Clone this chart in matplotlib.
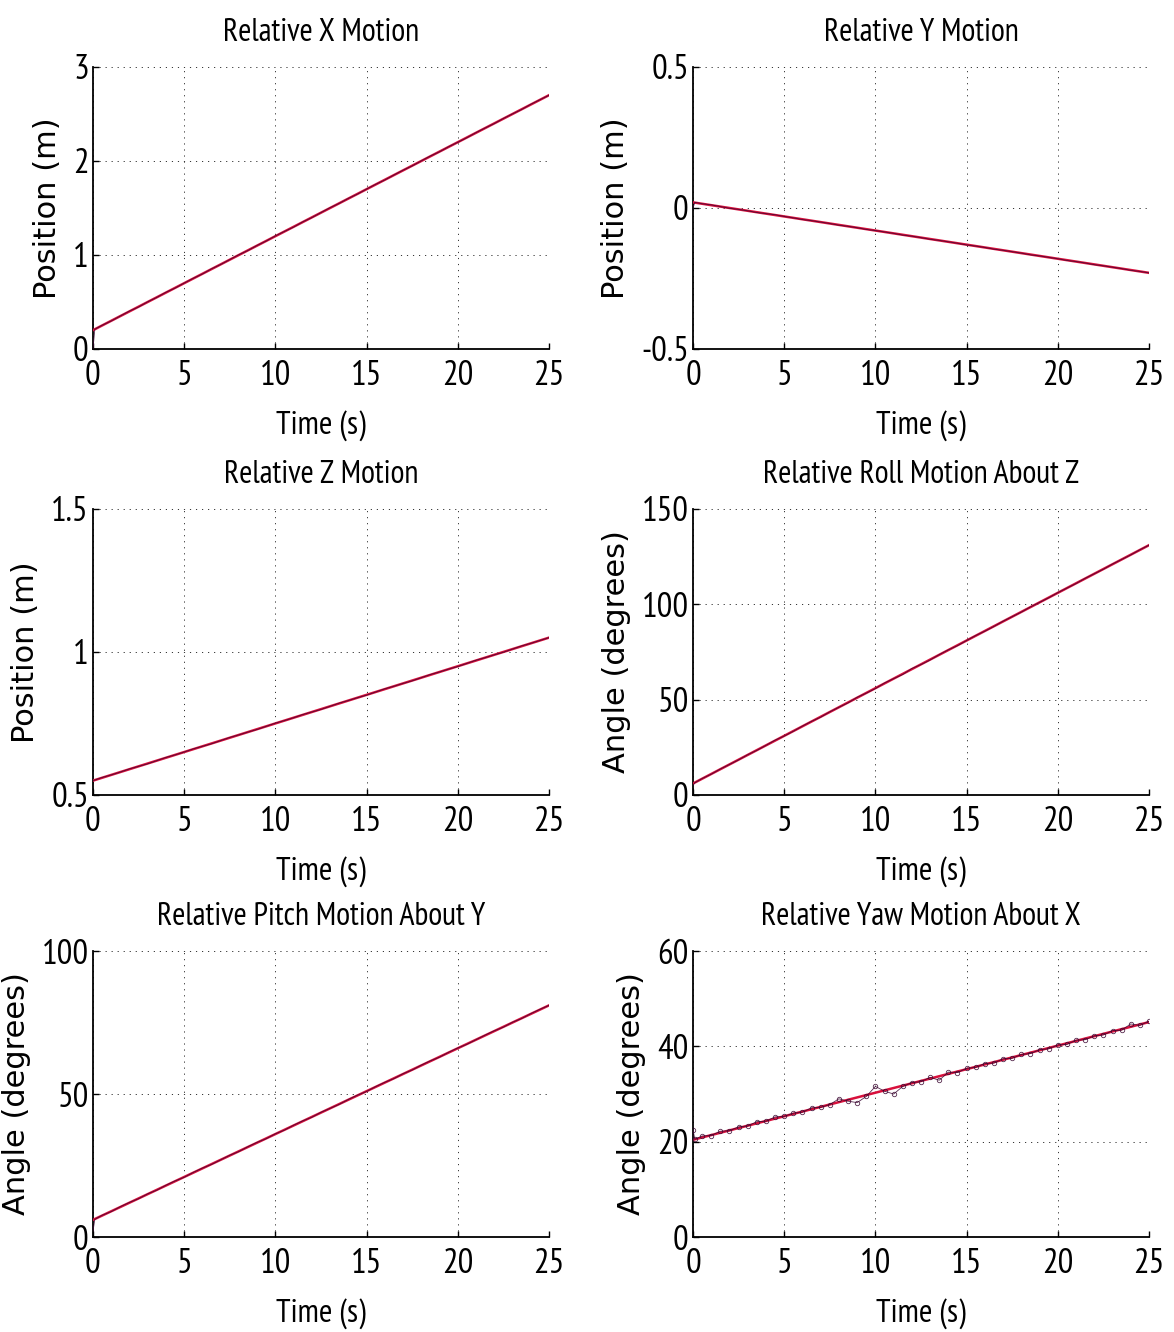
import numpy as np
import matplotlib
matplotlib.use("Agg")
import matplotlib.pyplot as plt

# sample times: one early sample to show the start-up jump, then every 0.5 s
time_s = np.r_[0.0, 0.1, np.arange(0.5, 25.01, 0.5)]

x_meas = [0.0, 0.21,
          0.252, 0.298, 0.351, 0.403, 0.447, 0.502, 0.549, 0.603, 0.648, 0.701,
          0.752, 0.798, 0.853, 0.899, 0.951, 1.003, 1.048, 1.102, 1.149, 1.203,
          1.251, 1.297, 1.352, 1.398, 1.451, 1.503, 1.549, 1.602, 1.648, 1.701,
          1.752, 1.798, 1.851, 1.902, 1.948, 2.001, 2.053, 2.098, 2.152, 2.199,
          2.248, 2.302, 2.351, 2.398, 2.452, 2.501, 2.548, 2.603, 2.651, 2.699]
y_meas = [0.0, 0.02,
          0.015, 0.011, 0.005, -0.001, -0.005, -0.010, -0.016, -0.020, -0.024, -0.030,
          -0.035, -0.041, -0.045, -0.050, -0.055, -0.061, -0.065, -0.070, -0.076, -0.080,
          -0.085, -0.090, -0.096, -0.100, -0.105, -0.111, -0.115, -0.120, -0.125, -0.131,
          -0.135, -0.140, -0.146, -0.150, -0.155, -0.160, -0.166, -0.170, -0.175, -0.180,
          -0.186, -0.190, -0.195, -0.201, -0.205, -0.210, -0.215, -0.221, -0.225, -0.230]
z_meas = [0.55, 0.552,
          0.561, 0.570, 0.580, 0.591, 0.600, 0.609, 0.620, 0.631, 0.640, 0.650,
          0.661, 0.670, 0.679, 0.690, 0.701, 0.710, 0.720, 0.729, 0.740, 0.751,
          0.760, 0.770, 0.781, 0.790, 0.799, 0.810, 0.821, 0.830, 0.840, 0.849,
          0.860, 0.871, 0.880, 0.890, 0.899, 0.910, 0.921, 0.930, 0.940, 0.949,
          0.960, 0.971, 0.980, 0.990, 0.999, 1.010, 1.021, 1.030, 1.040, 1.050]
roll_meas = [5.0, 6.4,
             8.6, 10.9, 13.6, 16.0, 18.4, 21.1, 23.4, 26.0, 28.7, 30.9,
             33.4, 36.1, 38.6, 40.8, 43.6, 46.0, 48.3, 51.2, 53.4, 55.8,
             58.7, 61.0, 63.2, 66.3, 68.4, 70.8, 73.6, 76.1, 78.3, 81.0,
             83.6, 85.9, 88.4, 91.1, 93.5, 95.9, 98.6, 101.0, 103.4, 106.1,
             108.5, 110.9, 113.6, 116.0, 118.4, 121.1, 123.5, 125.9, 128.6, 131.0]
pitch_meas = [2.0, 6.2,
              7.6, 8.9, 10.6, 12.1, 13.4, 15.1, 16.4, 18.1, 19.6, 20.9,
              22.6, 24.1, 25.4, 27.0, 28.6, 29.9, 31.6, 33.1, 34.4, 36.1,
              37.4, 39.1, 40.6, 41.9, 43.6, 45.0, 46.4, 48.1, 49.6, 50.9,
              52.6, 54.1, 55.4, 57.1, 58.4, 60.1, 61.6, 62.9, 64.6, 66.1,
              67.4, 69.0, 70.6, 72.1, 73.4, 75.1, 76.4, 78.1, 79.6, 81.0]
yaw_meas = [22.5, 20.5,
            21.2, 21.3, 22.2, 22.3, 23.1, 23.3, 24.2, 24.3, 25.2, 25.3,
            26.0, 26.2, 27.1, 27.2, 27.8, 29.0, 28.5, 28.2, 29.5, 31.6,
            30.6, 30.0, 31.6, 32.4, 32.6, 33.5, 32.9, 34.6, 34.5, 35.4,
            35.6, 36.4, 36.5, 37.4, 37.5, 38.3, 38.5, 39.3, 39.5, 40.3,
            40.4, 41.3, 41.4, 42.2, 42.4, 43.3, 43.4, 44.7, 44.4, 45.3]

# straight-line fits, value at t=0 and t=25
fit_t = [0, 25]
x_fit = [0.2, 2.7]
y_fit = [0.02, -0.23]
z_fit = [0.55, 1.05]
roll_fit = [6.0, 131.0]
pitch_fit = [6.0, 81.0]
yaw_fit = [20.4, 45.1]

titles = ["Relative X Motion", "Relative Y Motion", "Relative Z Motion",
          "Relative Roll Motion About Z", "Relative Pitch Motion About Y",
          "Relative Yaw Motion About X"]
ylabels = ["Position (m)", "Position (m)", "Position (m)",
           "Angle (degrees)", "Angle (degrees)", "Angle (degrees)"]
yticks = [[0, 1, 2, 3], [-0.5, 0, 0.5], [0.5, 1, 1.5],
          [0, 50, 100, 150], [0, 50, 100], [0, 20, 40, 60]]
ytick_labels = [["0", "1", "2", "3"], ["-0.5", "0", "0.5"], ["0.5", "1", "1.5"],
                ["0", "50", "100", "150"], ["0", "50", "100"], ["0", "20", "40", "60"]]
xticks = [0, 5, 10, 15, 20, 25]

NARROW = ["PT Sans Narrow", "DejaVu Sans"]
RED = "#d8103c"
DARK = "#3a0630"

# axes boxes in figure fractions: left, bottom, width, height
boxes = [[0.0792, 0.738, 0.3884, 0.2117], [0.5903, 0.738, 0.3884, 0.2117],
         [0.0792, 0.4032, 0.3884, 0.2147], [0.5903, 0.4032, 0.3884, 0.2147],
         [0.0792, 0.0713, 0.3884, 0.2147], [0.5903, 0.0713, 0.3884, 0.2147]]


def draw_panel(fig, i, meas, fit, markers=False):
    ax = fig.add_axes(boxes[i])
    ax.plot(fit_t, fit, color=RED, lw=1.8, zorder=3)
    if markers:
        ax.plot(time_s, meas, color=DARK, lw=0.6, marker="o", ms=3.2,
                mfc="none", mew=0.6, alpha=0.85, zorder=4)
    else:
        ax.plot(time_s, meas, color=DARK, lw=0.6, alpha=0.85, zorder=4)
    lo, hi = yticks[i][0], yticks[i][-1]
    ax.set_xlim(0, 25)
    ax.set_ylim(lo, hi)
    ax.set_xticks(xticks)
    ax.set_xticklabels([str(t) for t in xticks], family=NARROW, fontsize=25)
    ax.set_yticks(yticks[i])
    ax.set_yticklabels(ytick_labels[i], family=NARROW, fontsize=25)
    ax.tick_params(direction="in", length=4, width=1.0, colors="black")
    ax.tick_params(axis="x", pad=8)
    ax.tick_params(axis="y", pad=3)
    ax.grid(True, color="0.2", lw=0.7, linestyle=(0, (1.2, 5)))
    for side in ["top", "right"]:
        ax.spines[side].set_visible(False)
    for side in ["left", "bottom"]:
        ax.spines[side].set_linewidth(1.3)
    ax.set_title(titles[i], family=NARROW, fontsize=23, pad=19)
    ax.set_xlabel("Time (s)", family=NARROW, fontsize=23.5, labelpad=13)
    ax.set_ylabel(ylabels[i], family="DejaVu Sans", fontsize=22, labelpad=8)
    return ax


def main():
    fig = plt.figure(figsize=(11.74, 13.32), dpi=100)
    draw_panel(fig, 0, x_meas, x_fit)
    draw_panel(fig, 1, y_meas, y_fit)
    draw_panel(fig, 2, z_meas, z_fit)
    draw_panel(fig, 3, roll_meas, roll_fit)
    draw_panel(fig, 4, pitch_meas, pitch_fit)
    draw_panel(fig, 5, yaw_meas, yaw_fit, markers=True)
    fig.savefig("out.png", dpi=100)


if __name__ == "__main__":
    main()
